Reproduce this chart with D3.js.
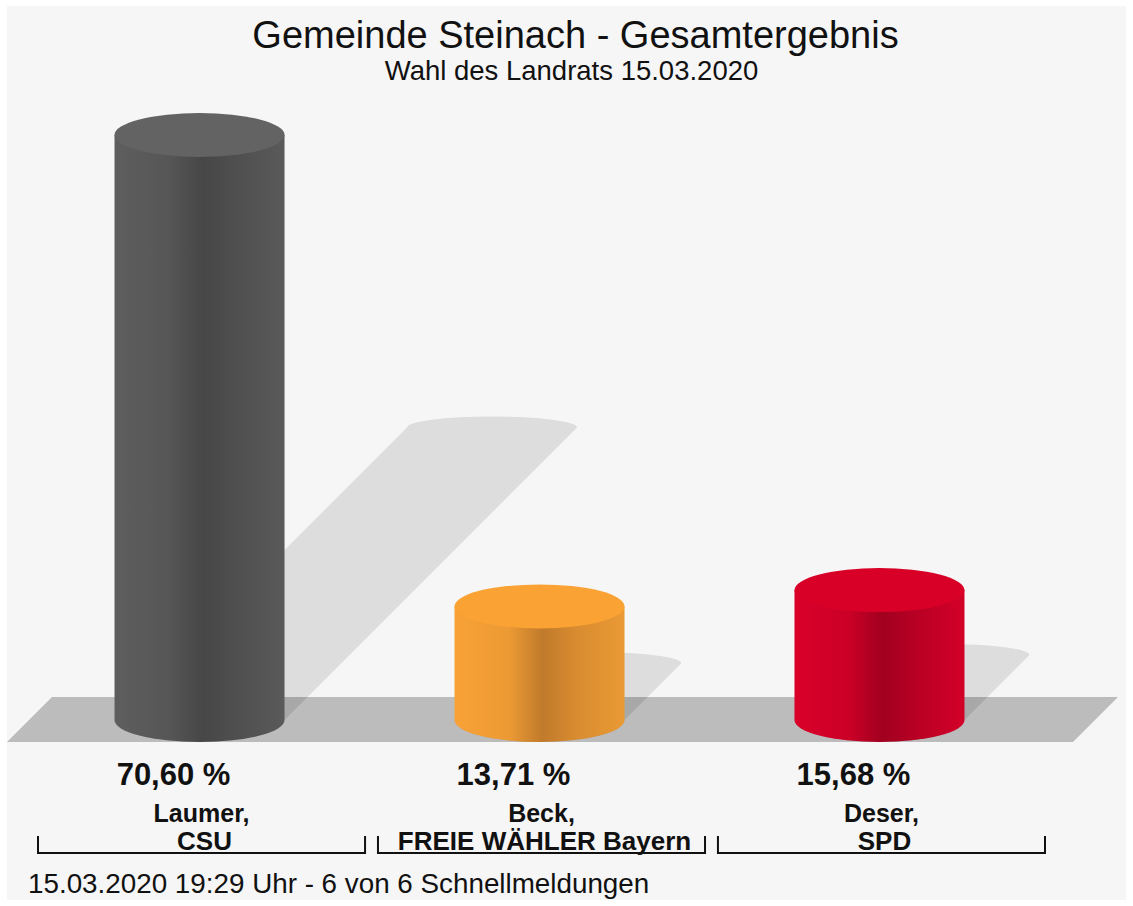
<!DOCTYPE html>
<html>
<head>
<meta charset="utf-8">
<script src="https://cdn.jsdelivr.net/npm/d3@7"></script>
<style>
  body { margin: 0; background: #fff; }
  svg text { font-family: "Liberation Sans", Arial, sans-serif; fill: #111; }
</style>
</head>
<body>
<div id="chart"></div>
<script>
const candidates = ['Laumer', 'Beck', 'Deser'];
const parties = ['CSU', 'FREIE WÄHLER Bayern', 'SPD'];
const shares = [70.60, 13.71, 15.68];
const colors = [
  { top: '#636363', stops: ['#5e5e5e', '#565656', '#474747', '#4f4f4f', '#5a5a5a'] },
  { top: '#fba234', stops: ['#f8a236', '#ec9a34', '#c07a2b', '#d98c30', '#ea9a35'] },
  { top: '#d90028', stops: ['#da002a', '#cb0027', '#a1001f', '#b90024', '#d30029'] }
];
const title = 'Gemeinde Steinach - Gesamtergebnis';
const subtitle = 'Wahl des Landrats 15.03.2020';
const footer = '15.03.2020 19:29 Uhr - 6 von 6 Schnellmeldungen';

const width = 1133;
const height = 906;
const base = 720;
const rx = 85;
const ry = 22;

const svg = d3.select('#chart')
  .append('svg')
    .attr('width', width)
    .attr('height', height);

svg.append('rect')
  .attr('x', 7).attr('y', 6)
  .attr('width', width - 14).attr('height', height - 12)
  .attr('fill', '#f6f6f6');

const x = d3.scaleBand()
  .domain(candidates)
  .range([38, 1045])
  .paddingInner(0.038);

const y = d3.scaleLinear()
  .domain([0, 70.6])
  .range([base, 135]);

const defs = svg.append('defs');
colors.forEach((c, i) => {
  const g = defs.append('linearGradient')
    .attr('id', `side-${i}`)
    .attr('x1', '0%').attr('x2', '100%');
  [0, 0.32, 0.52, 0.72, 1].forEach((o, j) => {
    g.append('stop').attr('offset', o).attr('stop-color', c.stops[j]);
  });
});

// floor
svg.append('path')
  .attr('d', 'M52,697 L1118,697 L1073,742 L7,742 Z')
  .attr('fill', '#bcbcbc');

const cx = d => x(d) + x.bandwidth() / 2 - 2;

// shadows, sheared 45 deg, half height
svg.append('g').selectAll('path')
  .data(candidates)
  .join('path')
    .attr('fill', '#000')
    .attr('fill-opacity', 0.1)
    .attr('d', (d, i) => {
      const h = (base - y(shares[i])) / 2;
      const c = cx(d);
      return `M${c - rx},${base} L${c - rx + h},${base - h} ` +
        `A${rx},${ry / 2} 0 0 1 ${c + rx + h},${base - h} ` +
        `L${c + rx},${base} A${rx},${ry} 0 0 1 ${c - rx},${base} Z`;
    });

const bars = svg.append('g').selectAll('g')
  .data(candidates)
  .join('g');

bars.append('path')
  .attr('fill', (d, i) => `url(#side-${i})`)
  .attr('d', (d, i) => {
    const c = cx(d);
    const t = y(shares[i]);
    return `M${c - rx},${t} L${c - rx},${base} ` +
      `A${rx},${ry} 0 0 0 ${c + rx},${base} L${c + rx},${t} Z`;
  });

bars.append('ellipse')
  .attr('cx', d => cx(d))
  .attr('cy', (d, i) => y(shares[i]))
  .attr('rx', rx)
  .attr('ry', ry)
  .attr('fill', (d, i) => colors[i].top);

// titles
svg.append('text')
  .attr('x', width / 2 + 9).attr('y', 48)
  .attr('text-anchor', 'middle')
  .style('font-size', '38px')
  .text(title);
svg.append('text')
  .attr('x', width / 2 + 5).attr('y', 80)
  .attr('text-anchor', 'middle')
  .style('font-size', '27.5px')
  .text(subtitle);

// values
svg.append('g').selectAll('text')
  .data(candidates)
  .join('text')
    .attr('x', d => cx(d) - 26)
    .attr('y', 785)
    .attr('text-anchor', 'middle')
    .style('font-size', '31px')
    .style('font-weight', 'bold')
    .text((d, i) => d3.format('.2f')(shares[i]).replace('.', ',') + ' %');

// labels with brackets
const labels = svg.append('g').selectAll('g')
  .data(candidates)
  .join('g')
    .attr('transform', d => `translate(${x(d)},0)`);

labels.append('text')
  .attr('x', x.bandwidth() / 2)
  .attr('y', 822)
  .attr('text-anchor', 'middle')
  .style('font-size', '25px')
  .style('font-weight', 'bold')
  .text(d => d + ',');

labels.append('text')
  .attr('x', x.bandwidth() / 2 + 3)
  .attr('y', 850)
  .attr('text-anchor', 'middle')
  .style('font-size', '26px')
  .style('font-weight', 'bold')
  .text((d, i) => parties[i]);

labels.append('path')
  .attr('d', `M0,836 V853 H${x.bandwidth()} V836`)
  .attr('fill', 'none')
  .attr('stroke', '#111')
  .attr('stroke-width', 2);

svg.append('text')
  .attr('x', 28).attr('y', 893)
  .style('font-size', '27.8px')
  .text(footer);
</script>
</body>
</html>
